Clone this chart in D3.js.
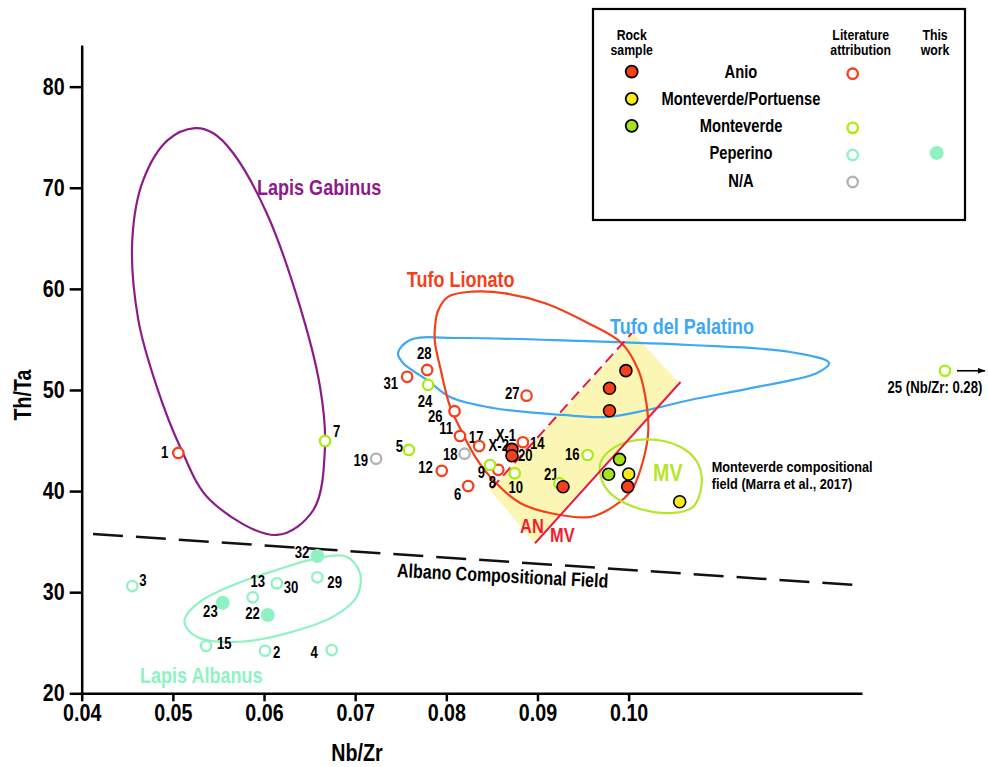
<!DOCTYPE html>
<html>
<head>
<meta charset="utf-8">
<script src="https://cdn.jsdelivr.net/npm/d3@7/dist/d3.min.js"></script>
<style>
  body { margin: 0; background: #fff; }
  svg { font-family: 'Liberation Sans', Arial, sans-serif; font-weight: bold; }
</style>
</head>
<body>
<div id="chart-area"></div>
<script>
// tick values
var nbzrTicks = [0.04, 0.05, 0.06, 0.07, 0.08, 0.09, 0.10]
var thtaTicks = [20, 30, 40, 50, 60, 70, 80]

// literature attribution (open circles): [label, Nb/Zr, Th/Ta]
var litAnio = [
  ['1', 0.0506, 43.77], ['31', 0.0757, 51.3], ['28', 0.0779, 51.98], ['26', 0.0809, 47.9],
  ['11', 0.0815, 45.45], ['17', 0.0836, 44.45], ['12', 0.0795, 42.0], ['6', 0.0824, 40.5],
  ['8', 0.0857, 42.1], ['20', 0.0872, 43.5], ['14', 0.0884, 44.83], ['27', 0.0888, 49.44]
]
var litMonteverde = [
  ['7', 0.0667, 44.96], ['5', 0.0759, 44.07], ['24', 0.0780, 50.5], ['9', 0.0848, 42.58],
  ['10', 0.0875, 41.76], ['16', 0.0955, 43.57], ['21', 0.0924, 40.77]
]
var litNA = [['19', 0.0723, 43.2], ['18', 0.0820, 43.7]]
var litPeperino = [
  ['3', 0.04555, 30.61], ['13', 0.05876, 29.5], ['30', 0.0614, 30.88], ['29', 0.06585, 31.47],
  ['15', 0.05364, 24.68], ['2', 0.06011, 24.21], ['4', 0.06743, 24.28]
]
// this work, peperino (filled)
var workPeperino = [['32', 0.06585, 33.58], ['23', 0.05547, 28.96], ['22', 0.06041, 27.74]]

// off-scale sample 25: true Nb/Zr 0.28, drawn past the axis end
var offScale = [['25', 0.28, 51.9]]
var offScaleDrawAt = 0.1347

// rock samples (filled, black outline)
var rockAnio = [
  ['X-1', 0.0872, 44.13], ['X-2', 0.0872, 43.5], ['', 0.0928, 40.43], ['', 0.0997, 51.91],
  ['', 0.0979, 50.17], ['', 0.0979, 47.95], ['', 0.0999, 40.44]
]
var rockMonteverde = [['', 0.0990, 43.14], ['', 0.0978, 41.66]]
var rockPortuense = [['', 0.1000, 41.69], ['', 0.1056, 38.95]]

// compositional fields, outline vertices [Nb/Zr, Th/Ta]
var gabinusField = [
  [0.05243, 75.89], [0.05444, 75.39], [0.05663, 73.41], [0.06030, 67.48], [0.06395, 58.24],
  [0.06614, 50.33], [0.06669, 44.39], [0.06541, 38.13], [0.06139, 35.66], [0.05408, 39.12],
  [0.05079, 44.39], [0.04823, 50.33], [0.04621, 56.93], [0.04555, 64.84], [0.04676, 70.77],
  [0.04947, 74.73]
]
var lionatoField = [
  [0.07931, 52.30], [0.07876, 54.65], [0.07876, 56.26], [0.07912, 57.91], [0.08022, 59.23],
  [0.08279, 59.72], [0.08644, 59.56], [0.09083, 58.58], [0.09558, 56.60], [0.09924, 54.62],
  [0.10106, 51.98], [0.10180, 49.51], [0.10216, 46.04], [0.10161, 43.08], [0.10034, 40.11],
  [0.09832, 38.46], [0.09577, 37.44], [0.09138, 37.83], [0.08809, 38.82], [0.08534, 40.90],
  [0.08326, 43.27], [0.08172, 45.85], [0.08041, 48.35]
]
var palatinoField = [
  [0.07602, 54.95], [0.08150, 55.14], [0.09467, 54.85], [0.10674, 54.45], [0.11771, 53.76],
  [0.12199, 52.67], [0.12067, 51.68], [0.11409, 50.30], [0.10674, 49.01], [0.10202, 48.02],
  [0.09763, 47.33], [0.09280, 47.53], [0.08512, 48.22], [0.08041, 49.31], [0.07788, 50.99],
  [0.07525, 52.67], [0.07470, 53.66]
]
var albanusField = [
  [0.05133, 27.42], [0.05298, 29.06], [0.05663, 30.71], [0.06139, 32.20], [0.06578, 33.35],
  [0.06907, 33.51], [0.07053, 31.87], [0.07017, 29.55], [0.06760, 27.58], [0.06249, 25.93],
  [0.05737, 25.10], [0.05298, 25.44], [0.05144, 26.59]
]
var mvField = [
  [0.09694, 42.88], [0.09851, 44.36], [0.10199, 45.12], [0.10564, 44.39], [0.10751, 42.88],
  [0.10802, 40.77], [0.10707, 38.43], [0.10488, 37.84], [0.10126, 38.23], [0.09818, 39.62],
  [0.09705, 41.10]
]
// AN / MV discriminant band
var band = [[0.08479, 40.11], [0.10052, 55.61], [0.10556, 50.66], [0.08973, 34.84]]
var anLine = [[0.08498, 40.28], [0.10034, 55.61]]
var mvLine = [[0.08973, 34.84], [0.10569, 50.79]]
var albanoLine = [[0.04124, 35.76], [0.12517, 30.69]]

// legend rows
var legendRows = ['Anio', 'Monteverde/Portuense', 'Monteverde', 'Peperino', 'N/A']

// colours
var red = '#f5401c'
var yellow = '#f8ea1a'
var green = '#a6e21c'
var lime = '#a9ec12'
var teal = '#8ff2c3'
var grey = '#b3b3b3'

// label offsets [dx, dy, anchor] in px from the point
var labelPos = {
  '1': [-10, 0, 'end'], '7': [8, -9, 'start'], '19': [-8, 2, 'end'], '5': [-6, -3, 'end'],
  '31': [-9, 7, 'end'], '28': [-3, -16, 'middle'], '24': [-3, 17, 'middle'], '26': [-12, 5, 'end'],
  '11': [-7, -7, 'end'], '17': [-3, -9, 'middle'], '18': [-7, 1, 'end'], '12': [-9, -3, 'end'],
  '6': [-7, 9, 'end'], '9': [-5, 8, 'end'], '8': [-6, 13, 'middle'], 'X-2': [-3, -10, 'end'],
  'X-1': [-6, -14, 'middle'], '20': [6, 0, 'start'], '14': [7, 1, 'start'], '10': [1, 14, 'middle'],
  '27': [-7, -2, 'end'], '16': [-8, 0, 'end'], '21': [-8, -9, 'middle'], '3': [7, -5, 'start'],
  '32': [-8, -3, 'end'], '13': [5, -16, 'middle'], '30': [7, 4, 'start'], '29': [10, 5, 'start'],
  '23': [-5, 9, 'end'], '22': [-8, -2, 'end'], '15': [11, -2, 'start'], '2': [8, 2, 'start'],
  '4': [-14, 3, 'end'], '25': [-10, 17, 'middle']
}

var svg = d3.select('#chart-area')
  .append('svg')
  .attr('width', 988)
  .attr('height', 767)

// scales
var x = d3.scaleLinear().domain([0.04, 0.1256]).range([81.7, 862])
var y = d3.scaleLinear().domain([20, 84.12]).range([693.3, 45])

var line = d3.line().x(function (d) { return x(d[0]) }).y(function (d) { return y(d[1]) })
var outline = d3.line()
  .x(function (d) { return x(d[0]) })
  .y(function (d) { return y(d[1]) })
  .curve(d3.curveCatmullRomClosed.alpha(0.5))

// yellow band
svg.append('path')
  .attr('d', line(band) + 'Z')
  .attr('fill', '#fbf6b4')

// fields
function field (pts, colour) {
  svg.append('path')
    .attr('d', outline(pts))
    .attr('fill', 'none')
    .attr('stroke', colour)
    .attr('stroke-width', 2.2)
}
field(gabinusField, '#8c1a8a')
field(palatinoField, '#3ea8f0')
field(lionatoField, '#f4401a')
field(albanusField, teal)
field(mvField, '#b5e62a')

// AN / MV lines
svg.append('path').attr('d', line(anLine))
  .attr('stroke', '#e8194a').attr('stroke-width', 2).attr('stroke-dasharray', '11,6').attr('fill', 'none')
svg.append('path').attr('d', line(mvLine))
  .attr('stroke', '#e8194a').attr('stroke-width', 2).attr('fill', 'none')

// Albano compositional field boundary
svg.append('path').attr('d', line(albanoLine))
  .attr('stroke', '#111').attr('stroke-width', 2.5).attr('stroke-dasharray', '30,13').attr('fill', 'none')

// axes
svg.append('g')
  .attr('transform', 'translate(0,' + y(20) + ')')
  .call(d3.axisBottom(x).tickValues(nbzrTicks).tickFormat(d3.format('.2f'))
    .tickSize(8).tickSizeOuter(0).tickPadding(3))
svg.append('g')
  .attr('transform', 'translate(' + x(0.04) + ',0)')
  .call(d3.axisLeft(y).tickValues(thtaTicks).tickSize(12).tickSizeOuter(0).tickPadding(5))
svg.selectAll('.domain, .tick line').attr('stroke', '#000').attr('stroke-width', 2.5)
svg.selectAll('.tick text')
  .attr('font-size', 24)
  .attr('font-family', "'Liberation Sans', Arial, sans-serif")
  .attr('font-weight', 'bold')
  .attr('fill', '#000')

// axis labels
svg.append('text')
  .attr('x', x(0.0702)).attr('y', 761)
  .attr('text-anchor', 'middle').attr('font-size', 24)
  .text('Nb/Zr')
svg.append('text')
  .attr('transform', 'translate(31,' + y(49.5) + ') rotate(-90)')
  .attr('text-anchor', 'middle').attr('font-size', 24)
  .text('Th/Ta')

// point labels first, circles on top
var labelled = [].concat(litAnio, litMonteverde, litNA, litPeperino, workPeperino, rockAnio)
  .filter(function (d) { return d[0] !== '' })
svg.append('g').selectAll('text')
  .data(labelled)
  .enter().append('text')
  .attr('x', function (d) { return x(d[1]) + labelPos[d[0]][0] })
  .attr('y', function (d) { return y(d[2]) + labelPos[d[0]][1] })
  .attr('text-anchor', function (d) { return labelPos[d[0]][2] })
  .attr('dominant-baseline', 'central')
  .attr('font-size', 16)
  .text(function (d) { return d[0] })

function openPts (data, colour) {
  svg.append('g').selectAll('circle')
    .data(data)
    .enter().append('circle')
    .attr('cx', function (d) { return x(d[1]) })
    .attr('cy', function (d) { return y(d[2]) })
    .attr('r', 5.2)
    .attr('fill', '#fff')
    .attr('stroke', colour)
    .attr('stroke-width', 2.3)
}
function rockPts (data, colour) {
  svg.append('g').selectAll('circle')
    .data(data)
    .enter().append('circle')
    .attr('cx', function (d) { return x(d[1]) })
    .attr('cy', function (d) { return y(d[2]) })
    .attr('r', 6)
    .attr('fill', colour)
    .attr('stroke', '#000')
    .attr('stroke-width', 1.6)
}
openPts(litAnio, red)
openPts(litMonteverde, lime)
openPts(litNA, grey)
openPts(litPeperino, teal)
svg.append('g').selectAll('circle')
  .data(workPeperino)
  .enter().append('circle')
  .attr('cx', function (d) { return x(d[1]) })
  .attr('cy', function (d) { return y(d[2]) })
  .attr('r', 7)
  .attr('fill', teal)
rockPts(rockAnio, red)
rockPts(rockMonteverde, green)
rockPts(rockPortuense, yellow)

// off-scale sample 25 with arrow
svg.append('defs').append('marker')
  .attr('id', 'arrow').attr('viewBox', '0 0 10 10')
  .attr('refX', 9).attr('refY', 5)
  .attr('markerWidth', 8).attr('markerHeight', 8)
  .attr('markerUnits', 'userSpaceOnUse')
  .attr('orient', 'auto')
  .append('path').attr('d', 'M0,1.5L10,5L0,8.5Z').attr('fill', '#000')
offScale.forEach(function (d) {
  var cx = x(offScaleDrawAt)
  var cy = y(d[2])
  openPts([[d[0], offScaleDrawAt, d[2]]], lime)
  svg.append('line')
    .attr('x1', cx + 12).attr('x2', cx + 40)
    .attr('y1', cy).attr('y2', cy)
    .attr('stroke', '#000').attr('stroke-width', 1.6)
    .attr('marker-end', 'url(#arrow)')
  svg.append('text')
    .attr('x', cx + labelPos[d[0]][0]).attr('y', cy + labelPos[d[0]][1])
    .attr('text-anchor', 'middle').attr('dominant-baseline', 'central')
    .attr('font-size', 16)
    .text(d[0] + ' (Nb/Zr: ' + d[1] + ')')
})

// field names
var notes = [
  { t: 'Lapis Gabinus', p: [0.05923, 69.29], c: '#8c1a8a', s: 22 },
  { t: 'Tufo Lionato', p: [0.07566, 60.19], c: '#f4401a', s: 22 },
  { t: 'Tufo del Palatino', p: [0.09796, 55.54], c: '#3ea8f0', s: 22 },
  { t: 'Lapis Albanus', p: [0.04640, 21.02], c: teal, s: 22 },
  { t: 'MV', p: [0.10268, 40.99], c: '#b5e62a', s: 24 },
  { t: 'AN', p: [0.08809, 35.86], c: '#f21b2d', s: 20 },
  { t: 'MV', p: [0.09138, 34.97], c: '#f21b2d', s: 20 },
  { t: 'Monteverde compositional', p: [0.10912, 41.89], c: '#000', s: 15.5 },
  { t: 'field (Marra et al., 2017)', p: [0.10912, 40.21], c: '#000', s: 15.5 }
]
svg.append('g').selectAll('text')
  .data(notes)
  .enter().append('text')
  .attr('x', function (d) { return x(d.p[0]) })
  .attr('y', function (d) { return y(d.p[1]) })
  .attr('fill', function (d) { return d.c })
  .attr('font-size', function (d) { return d.s })
  .text(function (d) { return d.t })

svg.append('text')
  .attr('transform', 'translate(' + x(0.07457) + ',' + y(31.5) + ') rotate(2.9)')
  .attr('font-size', 19.5)
  .text('Albano Compositional Field')

// legend
var lg = svg.append('g')
lg.append('rect')
  .attr('x', 593).attr('y', 9).attr('width', 372).attr('height', 211)
  .attr('fill', '#fff').attr('stroke', '#000').attr('stroke-width', 2.2)
var heads = [[631.7, ['Rock', 'sample']], [860.7, ['Literature', 'attribution']], [935, ['This', 'work']]]
heads.forEach(function (h) {
  h[1].forEach(function (w, i) {
    lg.append('text')
      .attr('x', h[0]).attr('y', 40 + i * 15)
      .attr('text-anchor', 'middle').attr('font-size', 15)
      .text(w)
  })
})
var rowY = d3.scalePoint().domain(legendRows).range([71.7, 180])
var rockFill = { 'Anio': red, 'Monteverde/Portuense': yellow, 'Monteverde': green }
var litStroke = { 'Anio': red, 'Monteverde': lime, 'Peperino': teal, 'N/A': grey }
legendRows.forEach(function (r) {
  var yy = rowY(r)
  lg.append('text')
    .attr('x', 741).attr('y', yy)
    .attr('text-anchor', 'middle').attr('dominant-baseline', 'central')
    .attr('font-size', 18)
    .text(r)
  if (rockFill[r]) {
    lg.append('circle').attr('cx', 631.7).attr('cy', yy).attr('r', 6)
      .attr('fill', rockFill[r]).attr('stroke', '#000').attr('stroke-width', 1.8)
  }
  if (litStroke[r]) {
    lg.append('circle').attr('cx', 852.7).attr('cy', yy + 2).attr('r', 5.2)
      .attr('fill', '#fff').attr('stroke', litStroke[r]).attr('stroke-width', 2.4)
  }
  if (r === 'Peperino') {
    lg.append('circle').attr('cx', 936.7).attr('cy', yy).attr('r', 7).attr('fill', teal)
  }
})

// condensed look: squeeze every text horizontally about its anchor
svg.selectAll('text').each(function () {
  var t = d3.select(this)
  var tx = +t.attr('x') || 0
  var ty = +t.attr('y') || 0
  var tr = t.attr('transform') || ''
  t.attr('x', 0).attr('y', 0)
    .attr('transform', tr + ' translate(' + tx + ',' + ty + ') scale(0.82,1)')
})
</script>
</body>
</html>
